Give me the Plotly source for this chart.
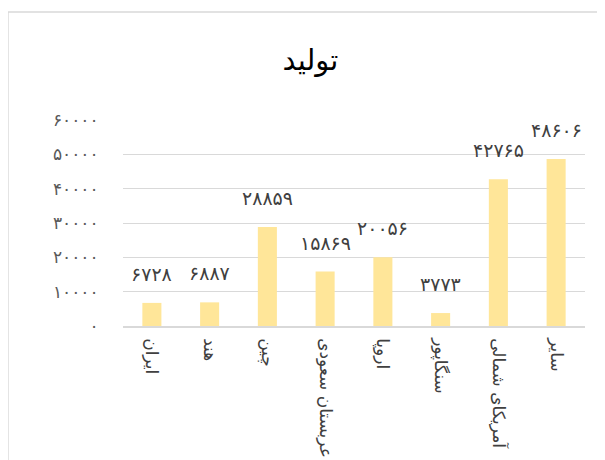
import plotly.graph_objects as go

# data
categories = ["ایران", "هند", "چین", "عربستان سعودی", "اروپا", "سنگاپور", "آمریکای شمالی", "سایر"]
values = [6728, 6887, 28859, 15869, 20056, 3773, 42765, 48606]
tick_vals = [0, 10000, 20000, 30000, 40000, 50000, 60000]

fa_digits = str.maketrans("0123456789", "۰۱۲۳۴۵۶۷۸۹")
def to_fa(n):
    return str(n).translate(fa_digits)

tick_text = [to_fa(v) for v in tick_vals]
value_text = [to_fa(v) for v in values]

FONT = "DejaVu Sans"

fig = go.Figure()
fig.add_trace(go.Bar(x=categories, y=values, marker=dict(color="#FFE699", line=dict(width=0)),
                     hoverinfo="x+y"))

# data labels sit a bit above the bars
for c, v, t in zip(categories, values, value_text):
    fig.add_annotation(x=c, y=v, text=t, showarrow=False, yanchor="middle", yshift=29,
                       font=dict(family=FONT, size=19, color="#404040"))

# chart area border (left + top only visible)
fig.add_shape(type="rect", xref="paper", yref="paper",
              x0=-0.249, x1=1.2, y0=-1.0, y1=1.524,
              line=dict(color="#D9D9D9", width=1.5), layer="below")

# page body has an 8px margin, so offsets are compensated here
fig.update_layout(
    width=605, height=460,
    margin=dict(l=115, r=28, t=112, b=142, autoexpand=False),
    paper_bgcolor="white", plot_bgcolor="white",
    title=dict(text="تولید", x=0.5, xanchor="center", y=0.887, yanchor="middle",
               font=dict(family=FONT, size=29, color="black")),
    bargap=0.67,
    showlegend=False,
    font=dict(family=FONT, color="#595959"),
)
fig.update_xaxes(tickangle=90, tickfont=dict(family=FONT, size=17, color="#404040"),
                 showline=True, linecolor="#D9D9D9", linewidth=1.5,
                 ticks="outside", ticklen=7, tickcolor="rgba(0,0,0,0)", showgrid=False,
                 automargin=False)
fig.update_yaxes(range=[0, 60000], tickvals=tick_vals, ticktext=tick_text,
                 tickfont=dict(family=FONT, size=17, color="#595959"),
                 showgrid=True, gridcolor="#D9D9D9", gridwidth=1, zeroline=False,
                 ticks="outside", ticklen=20, tickcolor="rgba(0,0,0,0)", showline=False,
                 automargin=False)

fig.write_html("out.html")
